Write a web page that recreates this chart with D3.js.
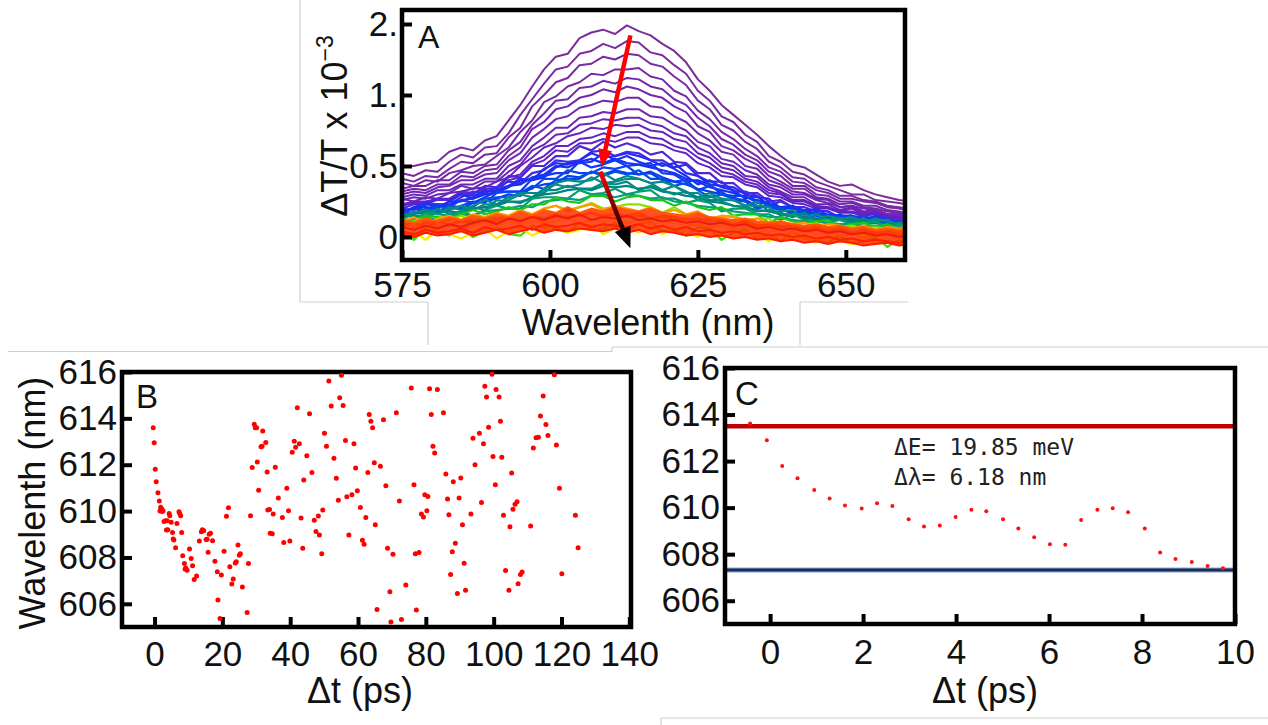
<!DOCTYPE html>
<html>
<head>
<meta charset="utf-8">
<script src="https://cdn.jsdelivr.net/npm/d3@7"></script>
<style>
  html, body { margin: 0; padding: 0; background: #fff; }
  svg { display: block; }
</style>
</head>
<body>
<svg id="fig" width="1268" height="725"></svg>
<script>
// ---------- Panel A: transient spectra (ΔT/T ×10^-3 vs wavelength) ----------
const wavelengths = [575,577,579,581,583,585,587,589,591,593,595,597,599,601,603,605,607,609,611,613,615,617,619,621,623,625,627,629,631,633,635,637,639,641,643,645,647,649,651,653,655,657,659,661];

const spec01 = [.50,.50,.52,.53,.60,.63,.61,.68,.71,.82,.93,1.06,1.18,1.27,1.29,1.40,1.44,1.46,1.43,1.49,1.45,1.42,1.36,1.31,1.23,1.11,1.03,.93,.86,.79,.72,.64,.57,.51,.49,.44,.39,.36,.37,.33,.30,.28,.26,.25];
const spec02 = [.45,.43,.47,.46,.53,.58,.56,.63,.64,.73,.86,.97,1.08,1.18,1.20,1.29,1.31,1.36,1.33,1.38,1.37,1.30,1.28,1.21,1.15,1.03,.96,.85,.81,.72,.67,.57,.53,.46,.44,.39,.36,.33,.30,.30,.26,.25,.24,.22];
const spec03 = [.41,.39,.43,.42,.48,.53,.52,.58,.59,.70,.77,.92,1.00,1.09,1.12,1.21,1.22,1.27,1.25,1.29,1.28,1.22,1.20,1.13,1.07,.96,.90,.79,.75,.67,.62,.53,.49,.42,.41,.35,.33,.29,.29,.26,.25,.22,.21,.20];
const spec04 = [.38,.36,.40,.39,.45,.47,.50,.51,.57,.63,.74,.82,.95,.99,1.06,1.09,1.15,1.14,1.18,1.18,1.19,1.13,1.11,1.03,.99,.89,.83,.74,.69,.62,.57,.49,.46,.39,.38,.33,.31,.27,.27,.25,.24,.21,.20,.18];
const spec05 = [.34,.36,.36,.40,.40,.46,.45,.50,.51,.61,.67,.79,.87,.96,.97,1.05,1.06,1.10,1.08,1.12,1.11,1.06,1.04,.97,.93,.84,.78,.69,.65,.58,.54,.46,.43,.36,.36,.30,.29,.25,.25,.22,.22,.19,.18,.16];
const spec06 = [.32,.34,.33,.37,.37,.43,.42,.47,.48,.57,.63,.76,.81,.90,.92,.98,1.00,1.04,1.02,1.06,1.04,1.00,.98,.92,.88,.78,.74,.64,.61,.55,.51,.43,.39,.34,.34,.28,.27,.23,.24,.21,.20,.18,.17,.15];
const spec07 = [.30,.32,.31,.35,.36,.40,.40,.44,.45,.54,.59,.70,.76,.83,.85,.91,.93,.96,.95,.98,.98,.92,.91,.85,.81,.73,.68,.60,.58,.50,.48,.40,.37,.32,.31,.27,.26,.21,.22,.20,.19,.16,.16,.14];
const spec08 = [.28,.30,.29,.33,.33,.37,.37,.41,.41,.50,.54,.64,.70,.77,.77,.84,.85,.88,.87,.90,.90,.85,.84,.79,.75,.67,.64,.55,.53,.47,.44,.37,.35,.30,.30,.26,.24,.21,.22,.18,.19,.16,.16,.14];
const spec09 = [.26,.28,.27,.30,.31,.36,.34,.39,.39,.46,.51,.61,.65,.72,.73,.79,.80,.83,.82,.84,.84,.80,.78,.73,.71,.63,.59,.52,.50,.43,.42,.35,.32,.28,.28,.23,.23,.19,.21,.17,.18,.15,.15,.13];
const spec10 = [.27,.25,.28,.27,.31,.32,.34,.35,.39,.42,.50,.56,.63,.66,.71,.73,.77,.76,.79,.78,.79,.75,.74,.69,.67,.59,.56,.49,.47,.41,.39,.33,.31,.26,.26,.22,.21,.18,.20,.16,.17,.14,.14,.12];
const spec11 = [.23,.25,.25,.27,.27,.32,.31,.34,.34,.42,.44,.53,.57,.64,.64,.69,.70,.73,.71,.74,.74,.70,.69,.64,.62,.56,.52,.46,.44,.39,.37,.31,.30,.25,.25,.21,.21,.18,.18,.16,.17,.14,.14,.12];
const spec12 = [.22,.24,.24,.26,.26,.30,.29,.32,.32,.40,.42,.51,.54,.61,.60,.66,.66,.69,.67,.70,.70,.66,.65,.61,.59,.52,.49,.43,.42,.37,.35,.29,.28,.24,.23,.20,.20,.17,.17,.15,.16,.13,.13,.11];
const spec13 = [.20,.23,.23,.27,.26,.31,.30,.36,.35,.43,.42,.50,.50,.57,.57,.64,.61,.67,.63,.66,.63,.58,.60,.53,.52,.45,.45,.38,.38,.31,.31,.25,.26,.21,.21,.18,.18,.14,.15,.13,.14,.11,.12,.10];
const spec14 = [.20,.19,.24,.23,.23,.28,.32,.31,.35,.39,.38,.45,.47,.54,.53,.54,.60,.61,.57,.60,.59,.54,.54,.49,.51,.43,.39,.39,.32,.32,.29,.22,.25,.21,.19,.19,.18,.13,.14,.15,.12,.14,.10,.11];
const spec15 = [.17,.21,.24,.21,.25,.30,.27,.32,.33,.36,.41,.40,.48,.52,.51,.54,.59,.56,.57,.59,.57,.54,.50,.52,.45,.43,.37,.36,.35,.30,.28,.27,.20,.21,.18,.20,.15,.15,.15,.12,.15,.12,.10,.12];
const spec16 = [.17,.21,.21,.20,.25,.25,.28,.33,.31,.35,.40,.40,.42,.49,.52,.52,.53,.59,.54,.57,.53,.50,.52,.48,.43,.37,.40,.35,.33,.27,.29,.22,.21,.22,.16,.16,.16,.14,.15,.12,.12,.12,.08,.11];
const spec17 = [.18,.20,.19,.23,.22,.26,.27,.30,.31,.36,.37,.42,.44,.50,.49,.53,.55,.52,.55,.52,.51,.49,.47,.45,.41,.39,.35,.33,.31,.28,.26,.24,.21,.20,.18,.17,.15,.14,.14,.12,.12,.11,.10,.10];
const spec18 = [.17,.16,.23,.22,.21,.26,.24,.28,.32,.32,.32,.41,.43,.45,.45,.53,.49,.51,.54,.50,.51,.52,.45,.44,.39,.40,.37,.30,.29,.29,.24,.24,.19,.22,.18,.15,.13,.16,.12,.13,.14,.09,.11,.09];
const spec19 = [.18,.17,.17,.23,.19,.22,.25,.24,.31,.32,.32,.34,.41,.41,.47,.45,.45,.49,.48,.50,.44,.46,.42,.39,.40,.33,.36,.32,.26,.25,.21,.23,.20,.17,.19,.12,.13,.13,.11,.13,.11,.08,.10,.09];
const spec20 = [.15,.17,.18,.17,.21,.20,.24,.25,.27,.30,.29,.35,.37,.38,.43,.42,.46,.44,.47,.45,.44,.45,.40,.39,.37,.34,.32,.30,.27,.26,.22,.21,.19,.18,.16,.15,.14,.12,.13,.11,.10,.11,.09,.09];
const spec21 = [.16,.16,.20,.18,.22,.21,.21,.27,.28,.28,.31,.36,.34,.40,.41,.41,.46,.43,.46,.44,.47,.41,.41,.36,.38,.33,.28,.30,.28,.25,.20,.22,.20,.16,.16,.17,.13,.14,.10,.12,.13,.10,.10,.10];
const spec22 = [.14,.18,.17,.16,.21,.19,.22,.26,.23,.28,.31,.31,.31,.38,.40,.39,.40,.45,.40,.43,.41,.38,.39,.36,.32,.28,.31,.27,.26,.22,.25,.18,.18,.19,.13,.13,.15,.13,.14,.11,.11,.12,.08,.11];
const spec23 = [.13,.17,.19,.17,.19,.22,.19,.23,.23,.26,.30,.28,.34,.37,.35,.37,.42,.38,.39,.41,.41,.38,.33,.36,.31,.31,.26,.26,.26,.22,.22,.21,.15,.16,.14,.16,.12,.13,.13,.10,.13,.11,.09,.11];
const spec24 = [.14,.15,.14,.17,.18,.17,.20,.21,.22,.25,.24,.28,.30,.31,.33,.34,.33,.36,.35,.36,.34,.35,.32,.31,.29,.28,.25,.24,.22,.21,.19,.18,.16,.16,.14,.13,.12,.12,.11,.10,.10,.09,.09,.08];
const spec25 = [.16,.15,.15,.20,.16,.18,.21,.19,.26,.25,.25,.27,.33,.33,.36,.34,.34,.38,.37,.39,.33,.36,.33,.30,.32,.26,.29,.25,.22,.21,.18,.19,.17,.14,.17,.11,.12,.13,.10,.13,.10,.08,.10,.09];
const spec26 = [.13,.12,.17,.16,.15,.18,.15,.19,.22,.20,.20,.27,.28,.28,.27,.33,.30,.31,.34,.30,.32,.33,.27,.27,.24,.26,.24,.18,.20,.20,.16,.16,.12,.16,.12,.11,.10,.12,.09,.10,.11,.06,.09,.07];
const spec27 = [.11,.13,.14,.12,.15,.16,.15,.18,.19,.20,.22,.21,.25,.26,.27,.26,.29,.30,.28,.30,.29,.27,.28,.25,.24,.22,.21,.20,.18,.17,.16,.14,.14,.12,.11,.11,.10,.09,.09,.08,.08,.07,.07,.06];
const spec28 = [.13,.12,.15,.14,.13,.16,.19,.16,.18,.21,.19,.23,.23,.28,.25,.24,.29,.29,.25,.28,.29,.26,.26,.22,.25,.21,.19,.21,.15,.16,.16,.10,.14,.11,.10,.11,.12,.07,.09,.10,.07,.09,.06,.07];
const spec29 = [.08,.11,.13,.11,.12,.15,.11,.14,.13,.15,.18,.15,.20,.22,.19,.21,.24,.20,.21,.23,.23,.21,.17,.21,.16,.17,.13,.14,.15,.12,.13,.13,.07,.09,.07,.10,.06,.07,.08,.05,.07,.05,.04,.06];
const spec30 = [.03,-.02,.06,.04,.01,.06,0,.04,.07,.02,.01,.08,.07,.06,.03,.10,.05,.06,.10,.04,.09,.11,.04,.05,.01,.07,.06,-.02,.03,.05,-.01,.02,-.03,.04,-.01,-.03,-.04,.01,-.05,-.03,0,-.07,-.02,-.06];
const spec31 = [.00,.04,-.02,.05,.02,-.01,.03,.06,-.01,.04,.07,.01,.05,.08,.03,.05,.09,.02,.06,.08,.03,.07,.02,.06,.04,0,.05,.02,-.01,.03,.01,-.03,.02,-.02,0,-.04,.01,-.03,-.05,0,-.04,-.02,-.06,-.03];
const spec32 = [.11,.14,.10,.13,.15,.12,.16,.14,.17,.15,.19,.16,.20,.22,.18,.21,.23,.19,.22,.20,.18,.21,.17,.19,.16,.18,.13,.15,.14,.11,.13,.10,.11,.09,.10,.07,.09,.08,.06,.08,.05,.07,.06,.05];
const spec33 = [.08,.10,.07,.11,.09,.12,.10,.11,.12,.14,.11,.15,.13,.16,.14,.15,.17,.14,.16,.15,.17,.13,.15,.14,.12,.13,.11,.12,.09,.11,.08,.09,.07,.08,.05,.07,.04,.06,.03,.05,.03,.04,.02,.04];
const spec34 = [.12,.10,.13,.11,.14,.12,.15,.13,.16,.14,.18,.15,.19,.17,.21,.17,.20,.18,.21,.19,.18,.20,.17,.16,.15,.17,.14,.13,.12,.13,.11,.10,.11,.09,.08,.09,.07,.08,.06,.07,.05,.06,.05,.06];
const spec35 = [.09,.07,.10,.08,.08,.11,.09,.12,.10,.13,.12,.14,.13,.16,.14,.15,.17,.15,.16,.14,.15,.13,.14,.12,.13,.11,.12,.10,.09,.10,.08,.07,.08,.06,.05,.06,.04,.05,.03,.04,.02,.03,.01,.03];
const spec36 = [.06,.08,.05,.07,.09,.06,.08,.10,.07,.11,.09,.12,.10,.11,.13,.10,.12,.11,.13,.10,.12,.09,.11,.10,.08,.09,.07,.08,.06,.07,.05,.04,.05,.03,.04,.02,.03,.01,.02,0,.01,0,-.01,.01];
const spec37 = [.04,.02,.05,.03,.04,.06,.03,.07,.05,.06,.08,.05,.09,.07,.08,.10,.07,.09,.08,.07,.09,.06,.08,.05,.07,.04,.05,.03,.04,.02,.03,.01,.02,0,.01,-.01,0,-.02,-.01,-.03,-.02,-.03,-.04,-.02];
const spec38 = [.02,0,.03,.01,.02,.04,.01,.03,.05,.02,.04,.06,.03,.05,.04,.06,.05,.04,.06,.03,.05,.02,.04,.03,.01,.02,0,.01,-.01,0,-.02,-.01,-.03,-.02,-.04,-.03,-.05,-.03,-.04,-.06,-.05,-.04,-.06,-.05];
const spec39 = [.07,.05,.08,.06,.09,.07,.10,.12,.09,.13,.11,.14,.12,.15,.13,.16,.12,.14,.13,.15,.12,.13,.11,.12,.10,.11,.09,.10,.08,.09,.06,.07,.05,.06,.04,.05,.03,.04,.02,.03,.01,.02,0,.01];

// early (purple) → late (red) delay times
const earlySpectra = [spec01,spec02,spec03,spec04,spec05,spec06,spec07,spec08,spec09,spec10,spec11,spec12,spec13,spec14,spec15,spec16,spec17,spec18,spec19,spec20,spec21,spec22,spec23,spec24,spec25,spec26,spec27,spec28,spec29,spec30,spec31,spec32,spec33];
const earlyColors = ["#7b2d9a","#7a2c9e","#782ba2","#772aa5","#7529a9","#7328ac","#7127b0","#6e26b4","#6b25b8","#6824bc","#6423c0","#5f22c5","#4f28d5","#3a2ee6","#2a2af0","#1f2ff2","#1a30f0","#1238f5","#0a44ec","#0a3cf0","#0050e6","#008a8a","#0a8a8a","#007f86","#008c7e","#00a070","#109a80","#18c818","#8ee000","#44dd00","#f2ee00","#ff9a00","#ff7a00"];
const lateSpectra = [spec34,spec35,spec36,spec37,spec38,spec39];
const lateColors = ["#ff5a00","#ff3c00","#ff4a10","#ff2000","#ff1a00","#ee1c10"];

const aXTicks = [575,600,625,650];
const aYTicks = [0,0.5,1,1.5];
const aYTickLabels = ["0","0.5","1.","2."];
const arrowRed = [[613.6,1.42],[608.7,0.49]];
const arrowDark = [[608.5,0.46],[613.6,-0.08]];

// ---------- Panel B: peak wavelength vs delay (full range) ----------
const bTime = [-0.4,-0.1,0.2,0.5,1.0,1.4,1.6,1.8,2.0,2.1,2.3,2.5,2.8,3.2,3.5,3.7,3.9,4.3,4.5,4.9,5.3,5.5,5.7,6.2,6.6,7.2,7.4,7.7,8.0,8.3,8.8,9.0,9.2,9.6,10.3,10.8,11.2,11.7,12.4,13.2,13.8,14.1,14.5,15.2,15.5,15.8,16.1,16.5,17.1,17.8,18.5,18.7,19.3,19.7,20.5,21.2,21.8,22.2,22.8,23.2,23.8,24.1,24.6,25.0,25.3,25.9,27.3,27.7,28.3,28.8,29.4,29.7,30.1,30.3,30.7,31.4,31.7,31.9,32.8,33.2,33.4,33.9,34.1,34.7,
  35.0,35.6,36.5,37.7,38.1,39.0,39.5,39.9,40.6,41.2,41.6,42.1,42.7,43.2,43.7,44.0,44.9,45.7,46.4,47.1,47.6,48.3,48.6,49.3,49.6,50.1,50.7,51.4,52.1,52.9,53.6,54.2,54.6,55.1,55.6,56.3,56.7,57.3,58.2,58.8,59.3,59.8,60.7,61.3,61.8,62.3,62.9,63.3,63.8,64.3,64.8,65.1,65.6,66.6,67.5,68.2,68.7,69.4,69.7,70.3,71.3,72.2,72.8,74.1,75.7,76.5,76.9,77.2,78.0,78.7,79.3,79.7,80.3,80.6,81.1,81.6,82.1,82.6,83.4,85.2,85.9,86.4,86.8,87.3,87.8,88.1,88.7,89.3,89.8,90.3,90.8,91.3,91.7,93.3,93.9,94.5,95.8,96.4,97.0,97.4,97.9,98.5,99.5,99.8,100.5,100.7,101.6,102.0,102.4,102.9,103.5,104.5,104.8,105.3,105.7,106.3,106.9,107.2,107.9,108.4,110.9,111.7,112.5,113.2,113.8,114.6,115.4,116.0,117.9,118.5,119.4,120.1,124.1,124.9];
const bWavelength = [613.6,612.95,611.8,611.27,610.79,610.43,610.0,610.17,610.05,610.1,609.98,610.02,609.55,609.58,609.18,609.58,609.2,609.9,609.8,609.52,609.08,608.8,608.75,608.42,609.47,609.97,609.9,609.8,609.08,608.07,607.74,607.5,607.55,607.45,608.36,607.96,607.64,607.05,607.2,608.71,609.11,609.19,609.15,608.77,608.79,608.22,609.0,609.04,608.72,607.84,607.38,606.16,605.37,607.24,608.27,609.78,610.14,607.6,606.85,607.07,607.76,607.82,608.54,608.1,608.16,606.73,605.63,607.74,609.8,611.88,613.75,613.59,613.6,612.12,610.9,612.78,612.8,613.46,612.96,611.69,610.05,610.07,609.04,609.02,
  609.87,611.89,610.56,609.72,608.64,610.98,610.01,608.71,612.54,613.01,612.75,614.46,612.9,609.7,608.4,611.34,612.39,614.2,611.67,609.61,609.12,609.79,608.97,608.16,610.05,613.36,612.8,615.61,614.53,612.28,611.42,610.47,614.89,615.86,614.56,613.04,610.62,608.97,610.7,612.9,611.86,610.88,610.16,608.74,608.57,609.72,611.67,614.17,613.88,613.59,612.08,609.41,605.75,611.93,613.94,611.09,608.4,606.52,605.22,608.14,614.24,610.44,605.32,606.81,615.31,611.14,608.16,605.73,608.21,609.87,609.75,610.7,610.01,610.63,615.28,614.17,612.8,612.51,615.24,614.24,611.6,610.52,609.84,607.27,608.25,611.27,608.61,606.45,610.56,611.43,609.41,607.75,606.58,609.87,613.14,612.0,613.36,610.37,612.9,615.38,614.92,613.62,615.9,612.35,611.14,615.25,614.92,613.88,612.32,609.82,607.44,606.58,609.32,611.64,610.08,610.3,610.4,606.87,607.27,607.37,609.36,612.72,613.16,613.19,614.1,614.96,613.73,613.26,615.88,612.85,610.98,607.3,609.82,608.42];
const bXTicks = [0,20,40,60,80,100,120,140];
const wlTicks = [606,608,610,612,614,616];

// ---------- Panel C: peak wavelength, first 10 ps ----------
const cTime = [-0.43,-0.07,0.26,0.59,0.95,1.28,1.61,1.97,2.30,2.63,2.98,3.31,3.65,3.99,4.33,4.65,5.01,5.34,5.68,6.02,6.35,6.69,7.04,7.37,7.70,8.06,8.39,8.72,9.07,9.41,9.74];
const cWavelength = [613.61,612.9,611.79,611.26,610.76,610.39,610.09,609.96,610.19,610.07,609.5,609.19,609.23,609.6,609.91,609.84,609.5,609.1,608.73,608.43,608.4,609.47,609.91,609.97,609.8,609.1,608.07,607.79,607.66,607.49,607.4];
const cXTicks = [0,2,4,6,8,10];
const cLevelHigh = 613.5;   // initial peak position
const cLevelLow = 607.32;   // relaxed peak position
const cNotes = ["ΔE= 19.85 meV","Δλ= 6.18 nm"];

// ---------- drawing ----------
const FONT = "'Liberation Sans', Arial, Helvetica, sans-serif";
const svg = d3.select("#fig");
svg.append("rect").attr("width",1268).attr("height",725).attr("fill","#fff");
const defs = svg.append("defs");

// thin grey sheet edges around the three panels
const edges = [[300,0,300,302],[300,302,428,302],[428,302,428,345],[800,302,908,302],[800,302,800,345],
               [8,351.5,612,351.5],[612,347,612,351.5],[612,347,1268,347],[661,718,1268,718],[661,718,661,725]];
svg.append("g").selectAll("line").data(edges).join("line")
  .attr("x1",d=>d[0]).attr("y1",d=>d[1]).attr("x2",d=>d[2]).attr("y2",d=>d[3])
  .attr("stroke","#cfcfcf").attr("stroke-width",1.2);

function styleAxis(g, fs) {
  g.attr("font-family", FONT).attr("font-size", fs);
  g.select(".domain").remove();
  g.selectAll(".tick line").attr("stroke","#000").attr("stroke-width",4);
  g.selectAll(".tick text").attr("fill","#111");
}
function frame(box) {
  svg.append("rect").attr("x",box.l).attr("y",box.t).attr("width",box.r-box.l).attr("height",box.b-box.t)
    .attr("fill","none").attr("stroke","#000").attr("stroke-width",4.5);
}
function label(txt, x, y, fs, anchor) {
  return svg.append("text").attr("x",x).attr("y",y).attr("font-family",FONT).attr("font-size",fs)
    .attr("fill","#111").attr("text-anchor",anchor||"start").text(txt);
}

// ----- Panel A -----
const A = {l:402, r:905, t:10, b:260};
const xA = d3.scaleLinear().domain([575,660]).range([A.l,A.r]);
const yA = d3.scaleLinear().domain([-0.162,1.5986]).range([A.b,A.t]);
defs.append("clipPath").attr("id","clipA").append("rect")
  .attr("x",A.l).attr("y",A.t).attr("width",A.r-A.l).attr("height",A.b-A.t);
const plotA = svg.append("g").attr("clip-path","url(#clipA)");
const specLine = d3.line().x((d,i)=>xA(wavelengths[i])).y(d=>yA(d));
earlySpectra.forEach((s,k)=>{
  plotA.append("path").datum(s).attr("d",specLine).attr("fill","none")
    .attr("stroke",earlyColors[k]).attr("stroke-width",k<12?2:2.2).attr("stroke-linejoin","round");
});
// dense late-time band
const band = d3.area().x((d,i)=>xA(wavelengths[i])).y0((d,i)=>yA(spec38[i])).y1(d=>yA(d));
plotA.append("path").datum(spec34).attr("d",band).attr("fill","#ff3000").attr("opacity",0.85);
lateSpectra.forEach((s,k)=>{
  plotA.append("path").datum(s).attr("d",specLine).attr("fill","none")
    .attr("stroke",lateColors[k]).attr("stroke-width",2).attr("stroke-linejoin","round");
});

function arrow(p0, p1, shaftColor, headColor, len, wid, sw) {
  const [x0,y0] = [xA(p0[0]), yA(p0[1])], [x1,y1] = [xA(p1[0]), yA(p1[1])];
  const dx = x1-x0, dy = y1-y0, n = Math.hypot(dx,dy), ux = dx/n, uy = dy/n;
  const bx = x1-ux*len, by = y1-uy*len;
  svg.append("line").attr("x1",x0).attr("y1",y0).attr("x2",bx+ux*2).attr("y2",by+uy*2)
    .attr("stroke",shaftColor).attr("stroke-width",sw);
  svg.append("polygon").attr("points",[[x1,y1],[bx-uy*wid/2,by+ux*wid/2],[bx+uy*wid/2,by-ux*wid/2]].map(p=>p.join(",")).join(" "))
    .attr("fill",headColor);
}
const grad = defs.append("linearGradient").attr("id","darkArrow").attr("gradientUnits","userSpaceOnUse")
  .attr("x1",xA(arrowDark[0][0])).attr("y1",yA(arrowDark[0][1]))
  .attr("x2",xA(arrowDark[1][0])).attr("y2",yA(arrowDark[1][1]));
grad.append("stop").attr("offset","0%").attr("stop-color","#ff0000");
grad.append("stop").attr("offset","85%").attr("stop-color","#000");
arrow(arrowRed[0], arrowRed[1], "#ff0000", "#ff0000", 18, 14, 4.5);
arrow(arrowDark[0], arrowDark[1], "url(#darkArrow)", "#000", 21, 17, 4.5);

styleAxis(svg.append("g").attr("transform",`translate(0,${A.b})`)
  .call(d3.axisBottom(xA).tickValues(aXTicks).tickSize(-10).tickPadding(12).tickFormat(d3.format("d"))), 35);
styleAxis(svg.append("g").attr("transform",`translate(${A.l},0)`)
  .call(d3.axisLeft(yA).tickValues(aYTicks).tickSize(-10).tickPadding(4).tickFormat((d,i)=>aYTickLabels[i])), 35);
frame(A);
label("A", 418, 48, 32);
label("Wavelenth (nm)", 648, 335, 36, "middle");
const ta = svg.append("text").attr("transform","translate(347,126) rotate(-90)")
  .attr("font-family",FONT).attr("font-size",36).attr("fill","#111").attr("text-anchor","middle");
ta.append("tspan").text("ΔT/T x 10");
ta.append("tspan").attr("font-size",23).attr("dy",-14).text("−3");

// ----- Panel B -----
const B = {l:122, r:631, t:372, b:627};
const xB = d3.scaleLinear().domain([-9.6,140.5]).range([B.l,B.r]);
const yB = d3.scaleLinear().domain([605,616]).range([B.b,B.t]);
styleAxis(svg.append("g").attr("transform",`translate(0,${B.b})`)
  .call(d3.axisBottom(xB).tickValues(bXTicks).tickSize(-10).tickPadding(14).tickFormat(d3.format("d"))), 35);
styleAxis(svg.append("g").attr("transform",`translate(${B.l},0)`)
  .call(d3.axisLeft(yB).tickValues(wlTicks).tickSize(-10).tickPadding(5).tickFormat(d3.format("d"))), 35);
frame(B);
svg.append("g").selectAll("circle").data(bTime).join("circle")
  .attr("cx",d=>xB(d)).attr("cy",(d,i)=>yB(bWavelength[i])).attr("r",2.5).attr("fill","#ff0000");
label("B", 136, 408, 33);
label("Δt (ps)", 360, 703, 36, "middle");
svg.append("text").attr("transform","translate(45,503) rotate(-90)").attr("font-family",FONT)
  .attr("font-size",36).attr("fill","#111").attr("text-anchor","middle").text("Wavelenth (nm)");

// ----- Panel C -----
const C = {l:725, r:1235, t:368, b:624};
const xC = d3.scaleLinear().domain([-0.97,10]).range([C.l,C.r]);
const yC = d3.scaleLinear().domain([605,616]).range([C.b,C.t]);
styleAxis(svg.append("g").attr("transform",`translate(0,${C.b})`)
  .call(d3.axisBottom(xC).tickValues(cXTicks).tickSize(-10).tickPadding(15).tickFormat(d3.format("d"))), 35);
styleAxis(svg.append("g").attr("transform",`translate(${C.l},0)`)
  .call(d3.axisLeft(yC).tickValues(wlTicks).tickSize(-10).tickPadding(5).tickFormat(d3.format("d"))), 35);
svg.append("line").attr("x1",C.l).attr("x2",C.r).attr("y1",yC(cLevelHigh)).attr("y2",yC(cLevelHigh))
  .attr("stroke","#c00000").attr("stroke-width",4.5);
svg.append("line").attr("x1",C.l).attr("x2",C.r).attr("y1",yC(cLevelLow)).attr("y2",yC(cLevelLow))
  .attr("stroke","#8fa8d0").attr("stroke-width",5);
svg.append("line").attr("x1",C.l).attr("x2",C.r).attr("y1",yC(cLevelLow)).attr("y2",yC(cLevelLow))
  .attr("stroke","#17305e").attr("stroke-width",3);
frame(C);
svg.append("g").selectAll("circle").data(cTime).join("circle")
  .attr("cx",d=>xC(d)).attr("cy",(d,i)=>yC(cWavelength[i])).attr("r",2).attr("fill","#ff1010");
label("C", 735, 405, 33);
label("Δt (ps)", 985, 703, 36, "middle");
cNotes.forEach((s,i)=>{
  svg.append("text").attr("x",894).attr("y",455+30*i).attr("font-family","'DejaVu Sans Mono', monospace")
    .attr("font-size",23).attr("fill","#222").text(s);
});
</script>
</body>
</html>
